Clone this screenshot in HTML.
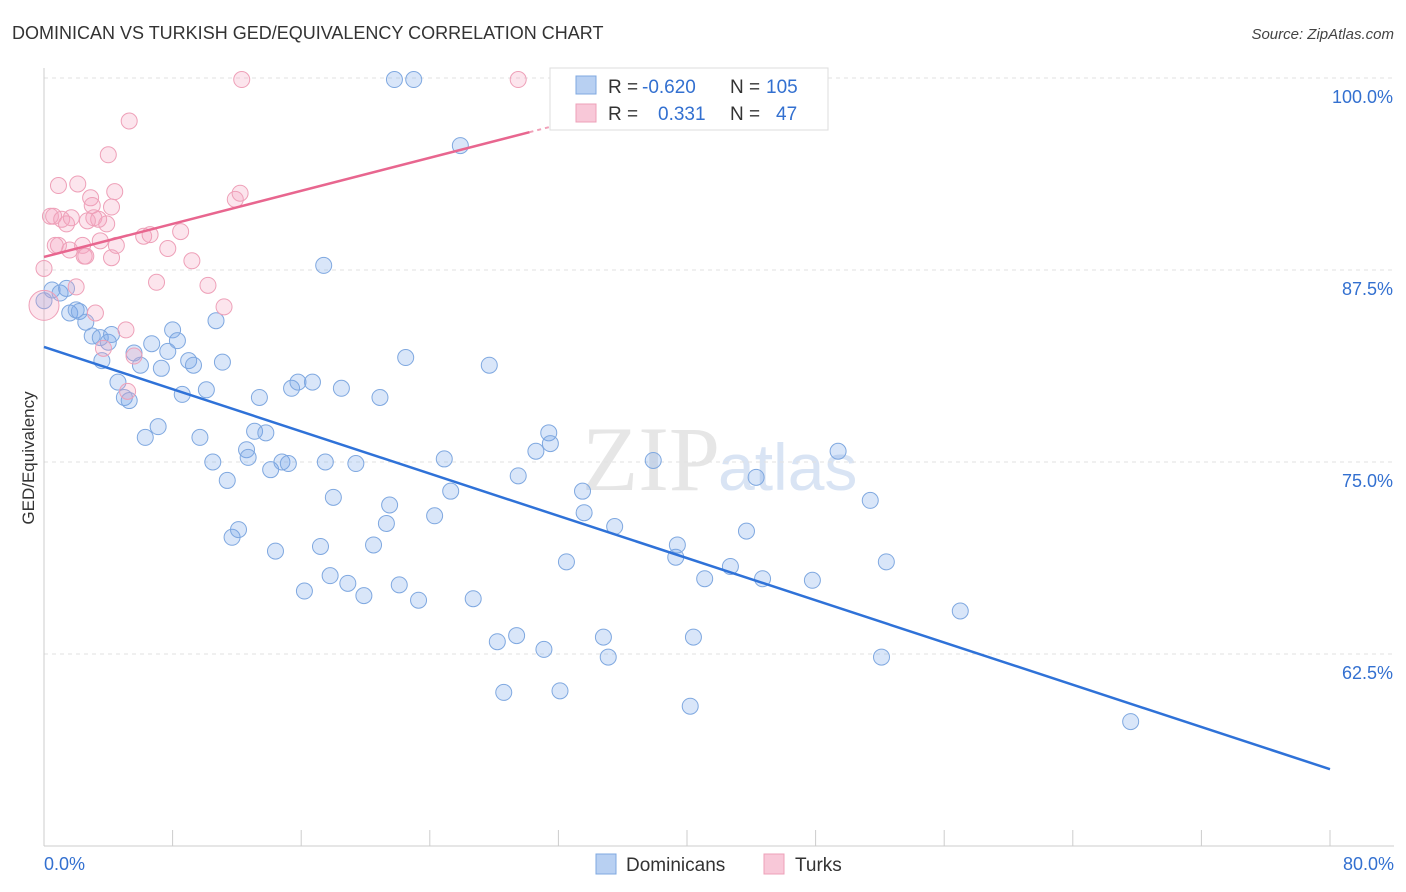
<!DOCTYPE html>
<html><head><meta charset="utf-8"><style>
body{margin:0;background:#fff;font-family:"Liberation Sans",sans-serif}
svg{display:block}
</style></head><body>
<svg id="chart" width="1406" height="892" xmlns="http://www.w3.org/2000/svg">
<text x="12" y="39" font-size="18" fill="#333">DOMINICAN VS TURKISH GED/EQUIVALENCY CORRELATION CHART</text>
<text x="1394" y="39" font-size="15" fill="#444" text-anchor="end" font-style="italic">Source: ZipAtlas.com</text>
<text x="720" y="490" font-size="92" fill="#e6e6e6" text-anchor="end" font-family="Liberation Serif">ZIP</text>
<text x="718" y="490" font-size="66" fill="#d9e4f4">atlas</text>
<g id="grid"></g>
<g id="axes"></g>
<text transform="translate(34,458) rotate(-90)" font-size="17" fill="#333" text-anchor="middle">GED/Equivalency</text>
<g id="marks"></g>
<g id="lines"></g>
<g>
<rect x="550" y="68" width="278" height="62" fill="#fff" stroke="#ddd"/>
<rect x="576" y="76" width="20" height="18" fill="#b8d0f2" stroke="#7fa8e0"/>
<text x="608" y="93" font-size="19" fill="#333">R =</text><text x="642" y="93" font-size="19" fill="#3370d0">-0.620</text>
<text x="730" y="93" font-size="19" fill="#333">N =</text><text x="766" y="93" font-size="19" fill="#3370d0">105</text>
<rect x="576" y="104" width="20" height="18" fill="#f8c8d8" stroke="#eea0b8"/>
<text x="608" y="120" font-size="19" fill="#333">R =</text><text x="658" y="120" font-size="19" fill="#3370d0">0.331</text>
<text x="730" y="120" font-size="19" fill="#333">N =</text><text x="776" y="120" font-size="19" fill="#3370d0">47</text>
</g>
<g>
<rect x="596" y="854" width="20" height="20" fill="#b8d0f2" stroke="#7fa8e0"/>
<text x="626" y="871" font-size="19" fill="#333">Dominicans</text>
<rect x="764" y="854" width="20" height="20" fill="#f8c8d8" stroke="#eea0b8"/>
<text x="795" y="871" font-size="19" fill="#333">Turks</text>
</g>
</svg>
<script>
const yTicks=[100,87.5,75,62.5];
const yTickLabels=["100.0%","87.5%","75.0%","62.5%"];
const blueX=[0,0.5,1,1.4,1.6,2,2.2,2.6,3,3.5,3.6,4,4.2,4.6,5,5.3,5.6,6,6.3,6.7,7.1,7.3,7.7,8,8.3,8.6,9,9.3,9.7,10.1,10.5,10.7,11.1,11.4,11.7,12.1,12.6,12.7,13.1,13.4,13.8,14.1,14.4,14.8,15.2,15.4,15.8,16.2,16.7,17.2,17.5,17.8,18,18.5,18.9,19.4,19.9,20.5,20.9,21.3,21.5,21.8,22.1,22.5,23,23.3,24.3,24.9,25.3,25.9,26.7,27.7,28.2,28.6,29.4,29.5,30.6,31.1,31.4,31.5,32.1,32.5,33.5,33.6,34.8,35.1,35.5,37.9,39.3,39.4,40.2,40.4,41.1,42.7,43.7,44.3,44.7,47.8,49.4,51.4,52.1,52.4,57,67.6,17.4];
const blueY=[85.5,86.2,86,86.3,84.7,84.9,84.8,84.1,83.2,83.1,81.6,82.8,83.3,80.2,79.2,79,82.1,81.3,76.6,82.7,77.3,81.1,82.2,83.6,82.9,79.4,81.6,81.3,76.6,79.7,75,84.2,81.5,73.8,70.1,70.6,75.8,75.3,77,79.2,76.9,74.5,69.2,75,74.9,79.8,80.2,66.6,80.2,69.5,75,67.6,72.7,79.8,67.1,74.9,66.3,69.6,79.2,71,72.2,99.9,67,81.8,99.9,66,71.5,75.2,73.1,95.6,66.1,81.3,63.3,60,63.7,74.1,75.7,62.8,76.9,76.2,60.1,68.5,73.1,71.7,63.6,62.3,70.8,75.1,68.8,69.6,59.1,63.6,67.4,68.2,70.5,74,67.4,67.3,75.7,72.5,62.3,68.5,65.3,58.1,87.8];
const pinkX=[0,0,0.4,0.6,0.9,0.9,1.1,1.4,1.6,1.7,2,2.1,2.4,2.5,2.6,2.9,3,3.1,3.2,3.5,3.7,3.9,4,4.2,4.2,4.4,4.5,5.1,5.2,5.3,5.6,6.2,6.6,7,7.7,8.5,9.2,10.2,11.2,11.9,12.2,12.3,29.5,0.7,3.4,2.7];
const pinkY=[87.6,85.2,91,91,93,89.1,90.8,90.5,88.8,90.9,86.4,93.1,89.1,88.4,88.4,92.2,91.7,90.9,84.7,89.4,82.4,90.5,95,88.3,91.6,92.6,89.1,83.6,79.6,97.2,81.9,89.7,89.8,86.7,88.9,90,88.1,86.5,85.1,92.1,92.5,99.9,99.9,89.1,90.8,90.7];
const blueTrend=[82.49,55.0];
const pinkTrend=[88.35,0.269];
const NS="http://www.w3.org/2000/svg";
const X0=44,X1=1330,Y100=78,PXPER=15.36;
function sx(v){return X0+v/80*(X1-X0);}
function sy(v){return Y100+(100-v)*PXPER;}
function mk(tag,attrs,parent){const e=document.createElementNS(NS,tag);for(const k in attrs)e.setAttribute(k,attrs[k]);parent.appendChild(e);return e;}
const grid=document.getElementById('grid'),axes=document.getElementById('axes'),marks=document.getElementById('marks'),lines=document.getElementById('lines');
yTicks.forEach((t,i)=>{
 const l=mk('line',{x1:X0,x2:1394,y1:sy(t),y2:sy(t),stroke:'#e2e2e2','stroke-dasharray':'4,4'},grid);
 
 
 const tx=mk('text',{x:1393,y:sy(t)+25,'font-size':18,fill:'#3370d0','text-anchor':'end'},axes);
 tx.textContent=yTickLabels[i];
 
 
});
const ax=mk('line',{x1:X0,x2:X0,y1:68,y2:846,stroke:'#ccc'},axes);


const bx=mk('line',{x1:X0,x2:1394,y1:846,y2:846,stroke:'#ccc'},axes);


for(let i=0;i<=10;i++){const x=sx(i*8);const t=mk('line',{x1:x,x2:x,y1:830,y2:846,stroke:'#ccc'},axes);
 
 }
const xl0=mk('text',{x:44,y:870,'font-size':18,fill:'#3370d0'},axes);xl0.textContent='0.0%';


const xl1=mk('text',{x:1394,y:870,'font-size':18,fill:'#3370d0','text-anchor':'end'},axes);xl1.textContent='80.0%';


blueX.forEach((v,i)=>{const c=mk('circle',{cx:sx(v),cy:sy(blueY[i]),r:8,fill:'rgba(120,165,235,0.28)',stroke:'#7fa8e0','stroke-width':1},marks);
 
 });
pinkX.forEach((v,i)=>{const c=mk('circle',{cx:sx(v),cy:sy(pinkY[i]),r:i===1?15:8,fill:'rgba(245,160,190,0.28)',stroke:'#eea0b8','stroke-width':1},marks);
 
 });
const bl=mk('line',{x1:sx(0),y1:sy(blueTrend[0]),x2:sx(80),y2:sy(blueTrend[1]),stroke:'#2f72d8','stroke-width':2.5},lines);


const pl=mk('line',{x1:sx(0),y1:sy(pinkTrend[0]),x2:sx(30.2),y2:sy(pinkTrend[0]+pinkTrend[1]*30.2),stroke:'#e8668f','stroke-width':2.5},lines);


const pd=mk('line',{x1:sx(30.2),y1:sy(pinkTrend[0]+pinkTrend[1]*30.2),x2:sx(34),y2:sy(pinkTrend[0]+pinkTrend[1]*34),stroke:'#f0a0b8','stroke-width':2,'stroke-dasharray':'4,4'},lines);


</script>
</body></html>
